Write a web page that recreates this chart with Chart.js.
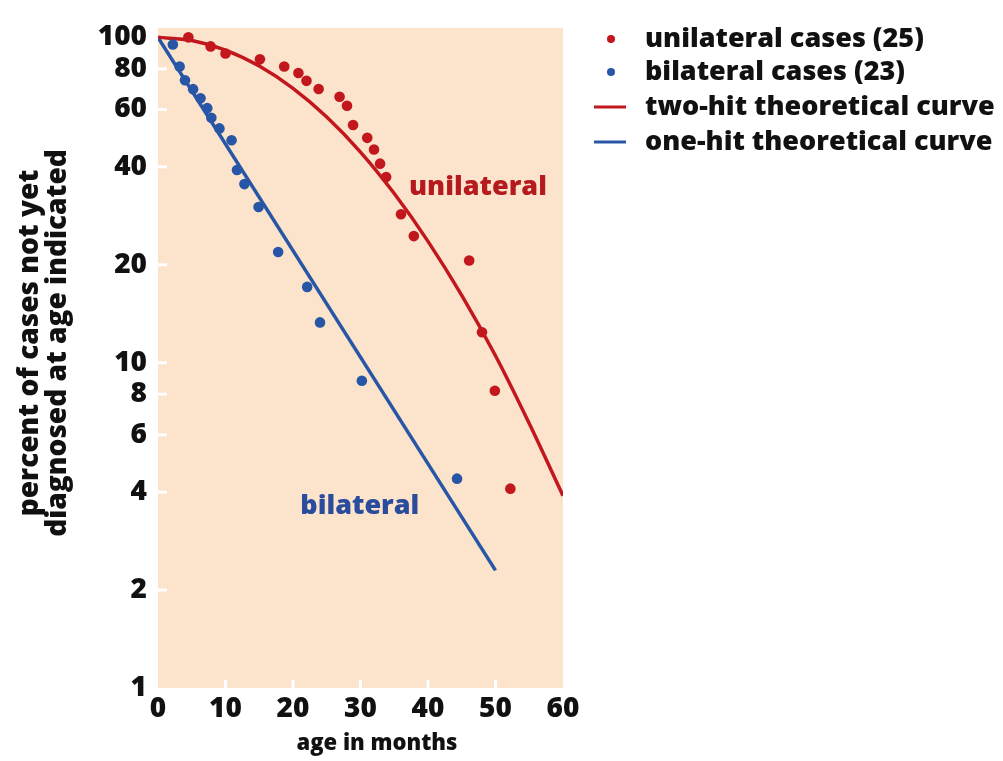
<!DOCTYPE html>
<html>
<head>
<meta charset="utf-8">
<script src="https://cdn.jsdelivr.net/npm/chart.js@4"></script>
<style>
  body { margin: 0; background: #fff; }
  #wrap { width: 1003px; height: 761px; position: relative; }
</style>
</head>
<body>
<div id="wrap"><canvas id="chart"></canvas></div>
<script>
// data
const uniMonths = [4.5, 7.8, 10.0, 15.1, 18.7, 20.8, 22.0, 23.8, 26.9, 28.0, 28.9, 31.0, 32.0, 32.9, 33.8, 36.0, 37.9, 46.1, 48.0, 49.9, 52.2];
const uniPercent = [100, 93.8, 89.2, 85.6, 81.4, 77.7, 73.5, 69.4, 65.7, 61.6, 53.8, 49.1, 45.2, 40.9, 37.2, 28.6, 24.5, 20.6, 12.4, 8.2, 4.1];

const biMonths = [2.2, 3.2, 4.0, 5.2, 6.3, 7.3, 7.9, 9.1, 10.9, 11.7, 12.8, 14.9, 17.8, 22.1, 24.0, 30.2, 44.3];
const biPercent = [95.1, 81.4, 73.8, 69.3, 65.0, 60.6, 56.6, 52.5, 48.3, 39.1, 35.4, 30.1, 21.9, 17.1, 13.3, 8.8, 4.4];

const twoHitMonths = [0, 5, 10, 15, 20, 25, 30, 35, 40, 45, 50, 55, 60];
const twoHitPercent = [100, 97.8, 91.4, 81.6, 69.7, 56.9, 44.4, 33.1, 23.6, 16.1, 10.5, 6.5, 3.9];

const oneHitMonths = [0, 50];
const oneHitPercent = [100, 2.3];

const yTicks = [1, 2, 4, 6, 8, 10, 20, 40, 60, 80, 100];
const xTicks = [0, 10, 20, 30, 40, 50, 60];

const legendLabels = ['unilateral cases (25)', 'bilateral cases (23)', 'two-hit theoretical curve', 'one-hit theoretical curve'];

const RED = '#C1171D';
const BLUE = '#2856A6';
const FONT = '"Open Sans", sans-serif';
const WEIGHT = '800';

const toPoints = (xs, ys) => xs.map((x, i) => ({ x: x, y: ys[i] }));

// peach plot background, inner white ticks, curve labels, titles, legend
const decorations = {
    id: 'decorations',
    beforeDatasetsDraw(chart) {
        const { ctx, chartArea: a, scales } = chart;
        ctx.save();
        ctx.fillStyle = '#FBE3CC';
        ctx.fillRect(a.left, a.top, a.right - a.left, a.bottom - a.top);
        ctx.strokeStyle = '#fff';
        ctx.lineWidth = 3;
        yTicks.slice(1).forEach(v => {
            const y = scales.y.getPixelForValue(v);
            ctx.beginPath();
            ctx.moveTo(a.left, y);
            ctx.lineTo(a.left + 9, y);
            ctx.stroke();
        });
        xTicks.slice(1, -1).forEach(v => {
            const x = scales.x.getPixelForValue(v);
            ctx.beginPath();
            ctx.moveTo(x, a.bottom);
            ctx.lineTo(x, a.bottom - 8);
            ctx.stroke();
        });
        ctx.restore();
    },
    afterDraw(chart) {
        const { ctx, scales } = chart;
        ctx.save();
        ctx.textBaseline = 'middle';
        ctx.textAlign = 'center';
        ctx.font = WEIGHT + ' 27px ' + FONT;
        ctx.fillStyle = '#B51A1E';
        ctx.fillText('unilateral', scales.x.getPixelForValue(47.4), scales.y.getPixelForValue(34.5));
        ctx.fillStyle = '#2A4C9C';
        ctx.fillText('bilateral', scales.x.getPixelForValue(29.9), scales.y.getPixelForValue(3.63));

        // axis titles
        ctx.fillStyle = '#111';
        ctx.font = WEIGHT + ' 22px ' + FONT;
        ctx.fillText('age in months', 377, 744);

        ctx.save();
        ctx.translate(0, 343);
        ctx.rotate(-Math.PI / 2);
        ctx.font = WEIGHT + ' 28px ' + FONT;
        ctx.fillText('percent of cases not yet', 0, 30);
        ctx.fillText('diagnosed at age indicated', 0, 58);
        ctx.restore();

        // legend
        const rows = [39, 72, 107, 142];
        const colors = [RED, BLUE, RED, BLUE];
        ctx.textAlign = 'left';
        ctx.font = WEIGHT + ' 27px ' + FONT;
        legendLabels.forEach((text, i) => {
            ctx.fillStyle = colors[i];
            ctx.strokeStyle = colors[i];
            if (i < 2) {
                ctx.beginPath();
                ctx.arc(611, rows[i], 4, 0, Math.PI * 2);
                ctx.fill();
            } else {
                ctx.lineWidth = 3;
                ctx.beginPath();
                ctx.moveTo(594, rows[i]);
                ctx.lineTo(626, rows[i]);
                ctx.stroke();
            }
            ctx.fillStyle = '#111';
            ctx.fillText(text, 645, rows[i]);
        });
        ctx.restore();
    }
};

new Chart(document.querySelector('#chart'), {
    type: 'scatter',
    data: {
        datasets: [
            {
                label: 'unilateral cases (25)',
                data: toPoints(uniMonths, uniPercent),
                backgroundColor: RED,
                borderColor: RED,
                pointRadius: 5.3,
                pointBorderWidth: 0
            },
            {
                label: 'bilateral cases (23)',
                data: toPoints(biMonths, biPercent),
                backgroundColor: BLUE,
                borderColor: BLUE,
                pointRadius: 5.3,
                pointBorderWidth: 0
            },
            {
                label: 'two-hit theoretical curve',
                type: 'line',
                data: toPoints(twoHitMonths, twoHitPercent),
                borderColor: RED,
                borderWidth: 3.5,
                pointRadius: 0,
                cubicInterpolationMode: 'monotone',
                fill: false
            },
            {
                label: 'one-hit theoretical curve',
                type: 'line',
                data: toPoints(oneHitMonths, oneHitPercent),
                borderColor: BLUE,
                borderWidth: 3.5,
                pointRadius: 0,
                fill: false
            }
        ]
    },
    options: {
        responsive: true,
        maintainAspectRatio: false,
        animation: false,
        layout: { padding: { left: 0, top: 13, right: 440, bottom: 0 } },
        plugins: {
            legend: { display: false },
            tooltip: { enabled: false }
        },
        scales: {
            x: {
                type: 'linear',
                min: 0,
                max: 60,
                afterBuildTicks: scale => { scale.ticks = xTicks.map(v => ({ value: v })); },
                afterFit: scale => { scale.height = 73; },
                grid: { display: false, drawTicks: false },
                border: { display: false },
                ticks: {
                    color: '#111',
                    padding: 4,
                    maxRotation: 0,
                    font: { family: FONT, size: 28, weight: WEIGHT }
                }
            },
            y: {
                type: 'logarithmic',
                min: 1,
                max: 107,
                afterBuildTicks: scale => { scale.ticks = yTicks.map(v => ({ value: v })); },
                afterFit: scale => { scale.width = 158; },
                grid: { display: false, drawTicks: false },
                border: { display: false },
                ticks: {
                    color: '#111',
                    padding: 11,
                    autoSkip: false,
                    callback: v => String(v),
                    font: { family: FONT, size: 28, weight: WEIGHT }
                }
            }
        }
    },
    plugins: [decorations]
});
</script>
</body>
</html>
